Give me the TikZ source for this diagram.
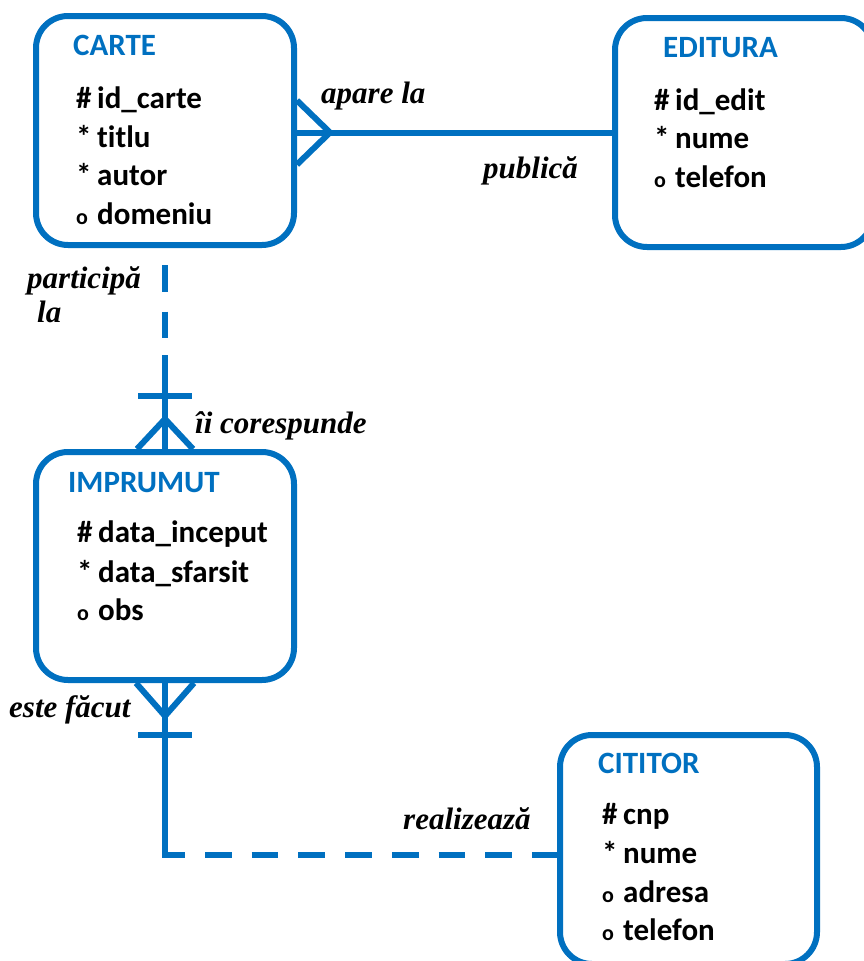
\documentclass[tikz,border=0pt]{standalone}
\usepackage{fontspec}
\setmainfont{Liberation Serif}
\newfontfamily\boxfont[Ligatures=NoCommon]{Carlito}
\usetikzlibrary{calc}
\definecolor{erblue}{RGB}{0,112,192}
\newcommand{\attrline}[2]{\makebox[21pt][l]{#1}#2}
\newcommand{\osym}{{\fontsize{22}{22}\selectfont o}}
\begin{document}
\begin{tikzpicture}[x=1pt,y=-1pt,
  ent/.style={draw=erblue, line width=6pt, rounded corners=32pt, minimum width=258pt, minimum height=229pt, inner sep=0pt},
  ttl/.style={anchor=base west, inner sep=0pt, text=erblue, font=\boxfont\bfseries\fontsize{31}{31}\selectfont},
  attr/.style={anchor=base west, inner sep=0pt, font=\boxfont\bfseries\fontsize{31}{31}\selectfont},
  lbl/.style={anchor=base west, inner sep=0pt, font=\bfseries\itshape\fontsize{31}{31}\selectfont},
  conn/.style={draw=erblue, line width=6pt},
  dashconn/.style={conn, dash pattern=on 26.7pt off 20pt}]
\useasboundingbox (0,0) rectangle (864,961);

% entities
\node[ent] (carte) at (165,130.5) {};
\node[ent] (editura) at (744,132.5) {};
\node[ent, minimum height=228pt] (imprumut) at (165,566) {};
\node[ent, minimum width=257pt] (cititor) at (688.5,849.5) {};

% CARTE text
\node[ttl] (tcarte) at (73,55) {CARTE};
\node[attr] (c1) at (76,108) {\attrline{\#}{id\_carte}};
\node[attr] (c2) at (76,147) {\attrline{*}{titlu}};
\node[attr] (c3) at (76,185) {\attrline{*}{autor}};
\node[attr] (c4) at (76,224) {\attrline{\osym}{domeniu}};

% EDITURA text
\node[ttl] (tedit) at (663,57) {EDITURA};
\node[attr] (e1) at (654,110) {\attrline{\#}{id\_edit}};
\node[attr] (e2) at (654,148) {\attrline{*}{nume}};
\node[attr] (e3) at (654,187) {\attrline{\osym}{telefon}};

% IMPRUMUT text
\node[ttl] (timpr) at (68,492) {IMPRUMUT};
\node[attr] (i1) at (77,542) {\attrline{\#}{data\_inceput}};
\node[attr] (i2) at (77,582) {\attrline{*}{data\_sfarsit}};
\node[attr] (i3) at (77,620) {\attrline{\osym}{obs}};

% CITITOR text
\node[ttl] (tcit) at (598,773) {CITITOR};
\node[attr] (t1) at (602,824) {\attrline{\#}{cnp}};
\node[attr] (t2) at (602,863) {\attrline{*}{nume}};
\node[attr] (t3) at (602,902) {\attrline{\osym}{adresa}};
\node[attr] (t4) at (602,940) {\attrline{\osym}{telefon}};

% CARTE -- EDITURA
\draw[conn] (carte.east |- editura.west) -- (editura.west);
\draw[conn] ($(carte.east |- editura.west)+(0,-32)$) -- ++(33,32) -- ++(-33,32);

% CARTE -- IMPRUMUT
\coordinate (cbreak) at ($(carte.south)+(0,107)$);
\draw[dashconn, dash phase=29.7pt] (carte.south) -- (cbreak);
\draw[conn] (cbreak) -- (imprumut.north);
\draw[conn] ($(imprumut.north)+(-27,-53)$) -- ++(54,0);
\draw[conn] ($(imprumut.north)+(-28,0)$) -- ++(28,-30) -- ++(28,30);

% IMPRUMUT -- CITITOR
\coordinate (elbow) at ($(imprumut.south)+(0,172)$);
\draw[conn, line cap=rect] (imprumut.south) -- (elbow);
\draw[dashconn, dash phase=6.7pt] (elbow) -- (elbow -| cititor.west);
\draw[conn] ($(imprumut.south)+(-29,0)$) -- ++(29,33) -- ++(29,-33);
\draw[conn] ($(imprumut.south)+(-27,52)$) -- ++(54,0);

% labels
\node[lbl] (lapare) at (321,103) {apare la};
\node[lbl] (lpublica) at (483,178) {publică};
\node[lbl] (lpart) at (27,288) {participă};
\node[lbl] (lla) at (37,322) {la};
\node[lbl] (lcores) at (195,433) {îi corespunde};
\node[lbl] (lfacut) at (9,717) {este făcut};
\node[lbl] (lreal) at (403,829) {realizează};
\end{tikzpicture}
\end{document}
